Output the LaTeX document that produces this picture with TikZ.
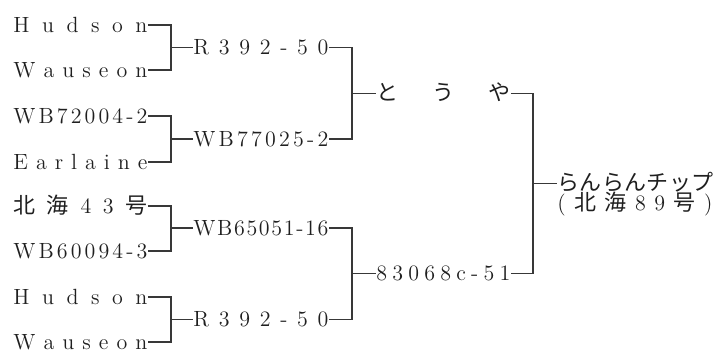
\documentclass[tikz,border=0pt]{standalone}
\usepackage{fontspec}
\newfontfamily\jp{Noto Sans CJK JP}
\ExplSyntaxOn
\NewDocumentCommand\spreadtxt{mm}{\hbox~to~#1{\hskip~0pt~plus~-1fil\relax\tl_map_inline:nn{#2}{\hfil{##1}}}}
\ExplSyntaxOff

\begin{document}
\begin{tikzpicture}[x=0.5pt, y=-0.5pt,
  lbl/.style={inner sep=0pt, anchor=west, text height=7.2pt, text depth=0pt,
    font=\fontsize{11}{13}\selectfont, text=black!88},
  link/.style={draw=black!78, line width=0.6pt},
]
\useasboundingbox (0,0) rectangle (715,351);

% Grandparents
\node[lbl] (hud1) at (13, 25) {\spreadtxt{67pt}{Hudson}};
\node[lbl] (wau1) at (13, 70) {\spreadtxt{67pt}{Wauseon}};
\node[lbl] (wb72) at (13, 116) {\spreadtxt{67pt}{WB72004-2}};
\node[lbl] (earl) at (13, 162) {\spreadtxt{67pt}{Earlaine}};
\node[lbl] (hok43) at (13, 206) {\spreadtxt{67pt}{{\jp 北}{\jp 海}43{\jp 号}}};
\node[lbl] (wb60) at (13, 251) {\spreadtxt{67pt}{WB60094-3}};
\node[lbl] (hud2) at (13, 297) {\spreadtxt{67pt}{Hudson}};
\node[lbl] (wau2) at (13, 342) {\spreadtxt{67pt}{Wauseon}};

% Parents
\node[lbl] (r392a) at (193, 47.5) {\spreadtxt{67.5pt}{R392-50}};
\node[lbl] (wb77) at (193, 139) {\spreadtxt{67.5pt}{WB77025-2}};
\node[lbl] (wb65) at (193, 228) {\spreadtxt{67.5pt}{WB65051-16}};
\node[lbl] (r392b) at (193, 319.5) {\spreadtxt{67.5pt}{R392-50}};

% Seed and pollen parent
\node[lbl] (toya) at (376, 93.25) {\spreadtxt{67pt}{{\jp と}{\jp う}{\jp や}}};
\node[lbl] (c83) at (376, 273.75) {\spreadtxt{67pt}{83068c-51}};

% Variety
\node[lbl] (ranran) at (557, 183.5) {\spreadtxt{78pt}{{\jp ら}{\jp ん}{\jp ら}{\jp ん}{\jp チ}{\jp ッ}{\jp プ}}};
\node[lbl] (hok89) at (557, 203) {\spreadtxt{77.5pt}{({\jp 北}{\jp 海}89{\jp 号})}};

% Junctions
\coordinate (ja) at (171, 47.5);
\coordinate (jb) at (171, 139);
\coordinate (jc) at (171, 228);
\coordinate (jd) at (171, 319.5);
\coordinate (je) at (352, 93.25);
\coordinate (jf) at (352, 273.75);
\coordinate (jg) at (533, 183.5);

% Brackets
\draw[link] (hud1.east) -| (ja) |- (wau1.east);
\draw[link] (ja) -- (r392a.west);
\draw[link] (wb72.east) -| (jb) |- (earl.east);
\draw[link] (jb) -- (wb77.west);
\draw[link] (hok43.east) -| (jc) |- (wb60.east);
\draw[link] (jc) -- (wb65.west);
\draw[link] (hud2.east) -| (jd) |- (wau2.east);
\draw[link] (jd) -- (r392b.west);
\draw[link] (r392a.east) -| (je) |- (wb77.east);
\draw[link] (je) -- (toya.west);
\draw[link] (wb65.east) -| (jf) |- (r392b.east);
\draw[link] (jf) -- (c83.west);
\draw[link] (toya.east) -| (jg) |- (c83.east);
\draw[link] (jg) -- (ranran.west);

\end{tikzpicture}
\end{document}
